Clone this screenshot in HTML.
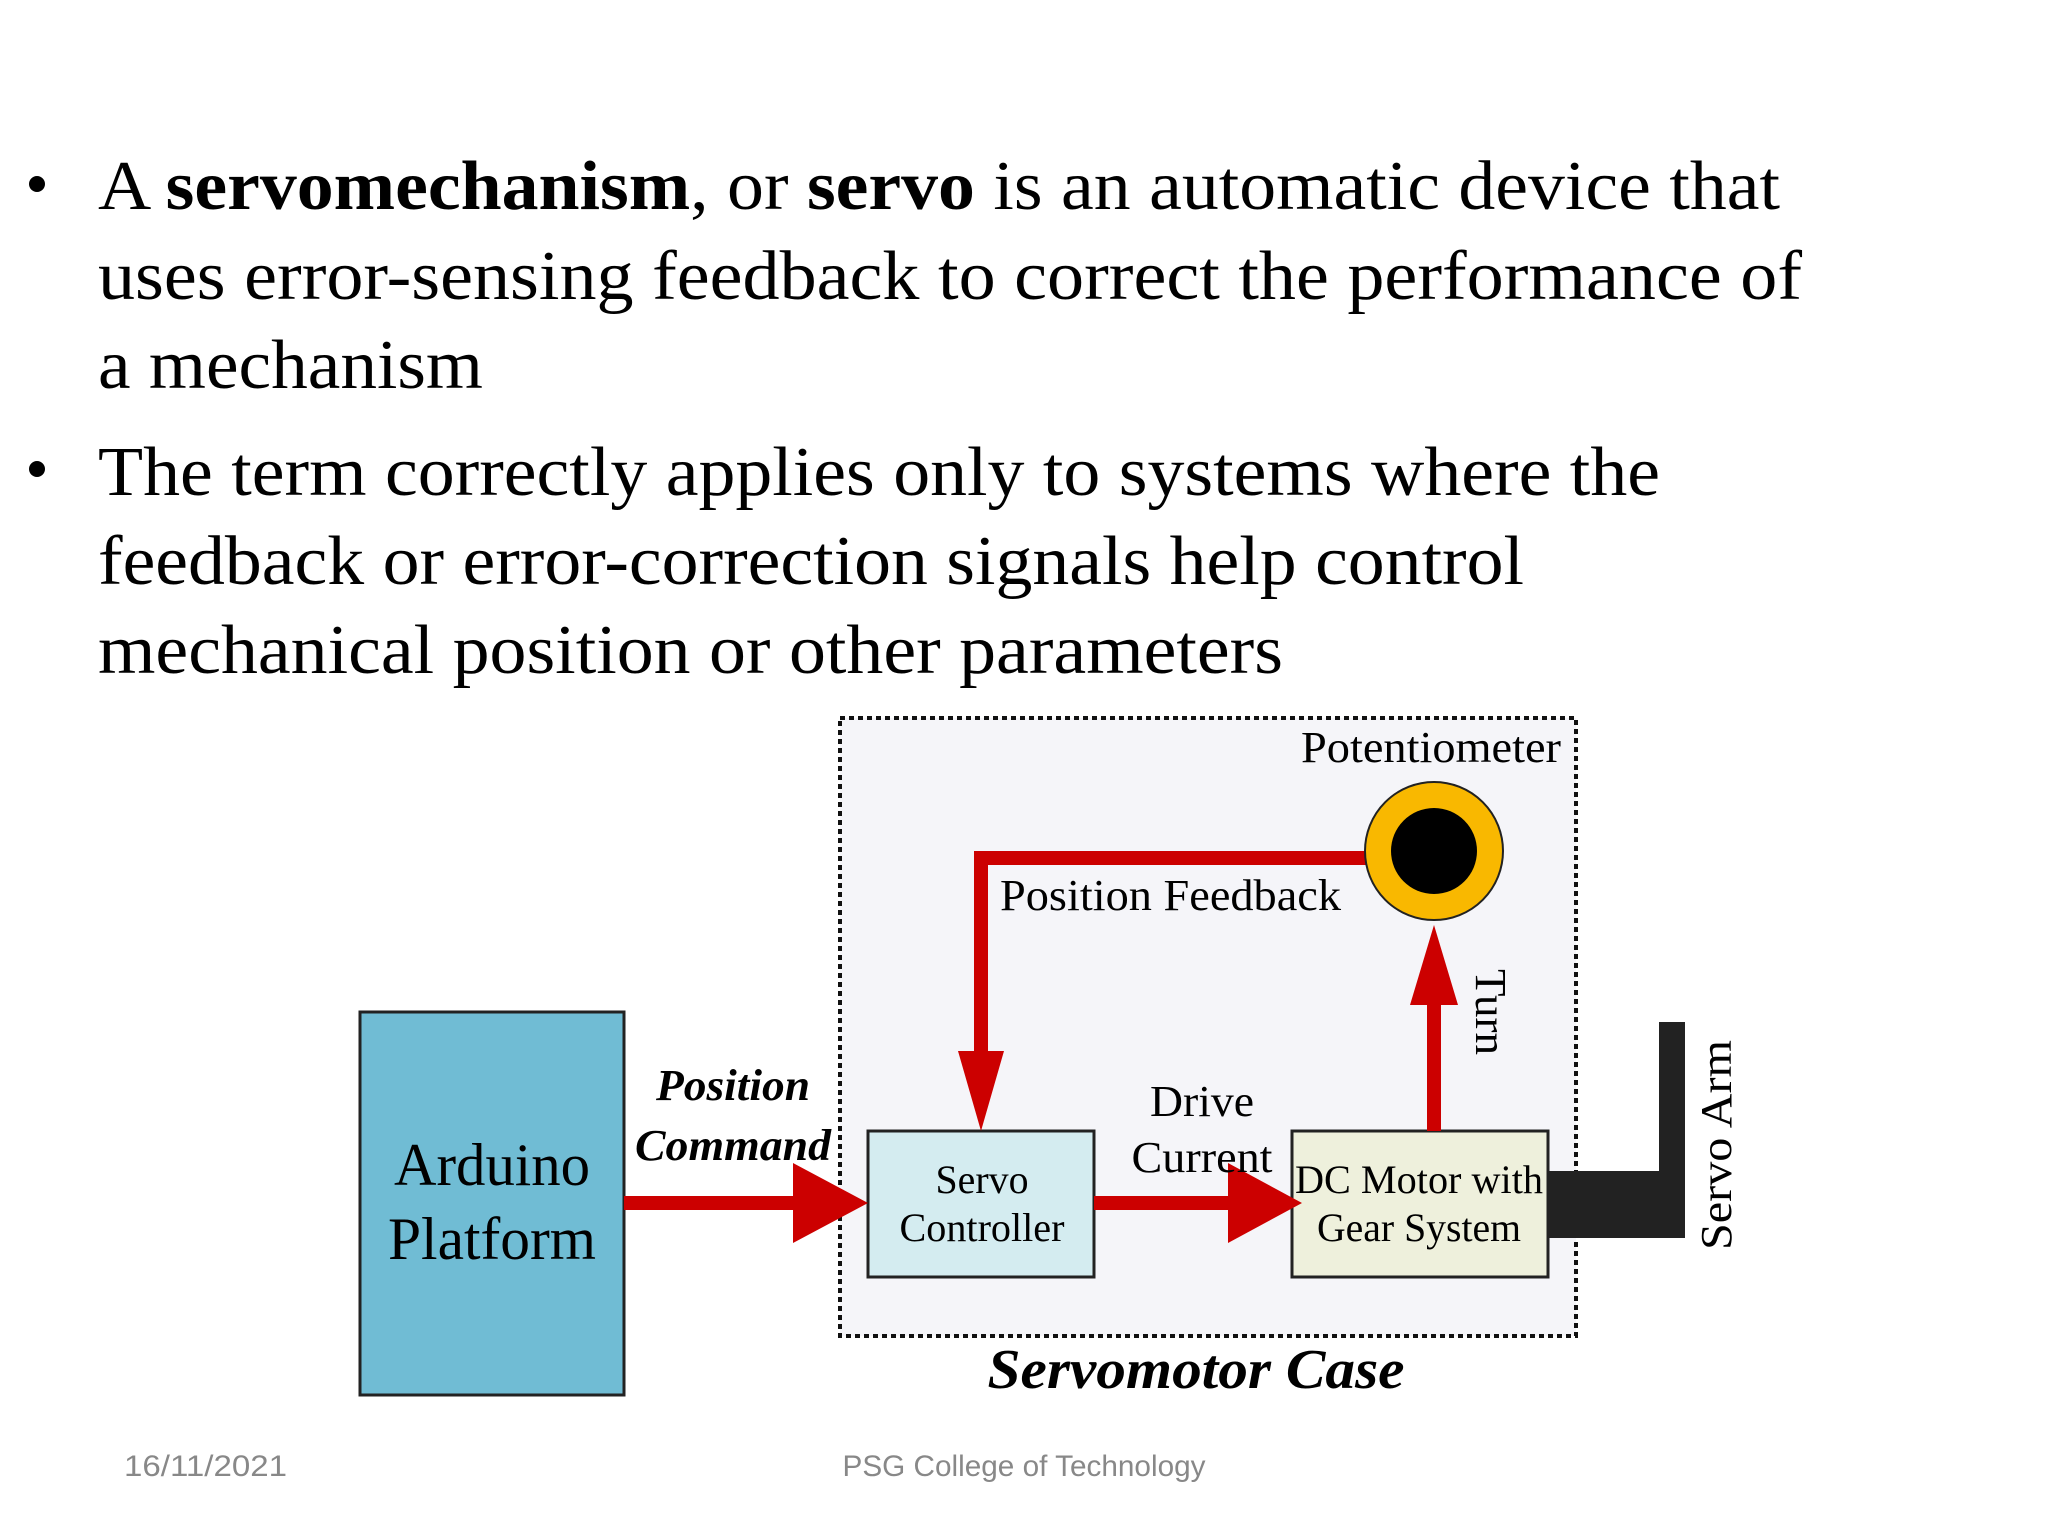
<!DOCTYPE html>
<html><head><meta charset="utf-8"><style>
html,body{margin:0;padding:0;background:#fff;}
svg{display:block;}
</style></head><body>
<svg width="2048" height="1536" viewBox="0 0 2048 1536" xmlns="http://www.w3.org/2000/svg">
<rect width="2048" height="1536" fill="#fff"/>
<g font-family="Liberation Serif, serif" font-size="70" fill="#000">
<circle cx="37" cy="184" r="8"/>
<circle cx="37" cy="469" r="8"/>
<text x="98" y="209" textLength="1682" lengthAdjust="spacingAndGlyphs">A <tspan font-weight="bold">servomechanism</tspan>, or <tspan font-weight="bold">servo</tspan> is an automatic device that</text>
<text x="98" y="299" textLength="1704" lengthAdjust="spacingAndGlyphs">uses error-sensing feedback to correct the performance of</text>
<text x="98" y="388" textLength="385" lengthAdjust="spacingAndGlyphs">a mechanism</text>
<text x="98" y="495" textLength="1562" lengthAdjust="spacingAndGlyphs">The term correctly applies only to systems where the</text>
<text x="98" y="584" textLength="1426" lengthAdjust="spacingAndGlyphs">feedback or error-correction signals help control</text>
<text x="98" y="673" textLength="1185" lengthAdjust="spacingAndGlyphs">mechanical position or other parameters</text>
</g>
<rect x="840" y="718" width="736" height="618" fill="#f5f5f9" stroke="#111" stroke-width="4" stroke-dasharray="5,4"/>
<rect x="360" y="1012" width="264" height="383" fill="#70bcd4" stroke="#222" stroke-width="3"/>
<g font-family="Liberation Serif, serif" font-size="60" text-anchor="middle" fill="#000">
<text x="492" y="1185" textLength="196" lengthAdjust="spacingAndGlyphs">Arduino</text>
<text x="492" y="1259" textLength="208" lengthAdjust="spacingAndGlyphs">Platform</text>
</g>
<rect x="868" y="1131" width="226" height="146" fill="#d4ecf0" stroke="#222" stroke-width="3"/>
<rect x="1292" y="1131" width="256" height="146" fill="#eef0dc" stroke="#222" stroke-width="3"/>
<g font-family="Liberation Serif, serif" font-size="40" text-anchor="middle" fill="#000">
<text x="982" y="1193" textLength="93" lengthAdjust="spacingAndGlyphs">Servo</text>
<text x="982" y="1241" textLength="165" lengthAdjust="spacingAndGlyphs">Controller</text>
<text x="1419" y="1193" textLength="248" lengthAdjust="spacingAndGlyphs">DC Motor with</text>
<text x="1419" y="1241" textLength="204" lengthAdjust="spacingAndGlyphs">Gear System</text>
</g>
<rect x="1548" y="1171" width="117" height="67" fill="#222"/>
<rect x="1659" y="1022" width="26" height="216" fill="#222"/>
<g fill="#cc0000">
<rect x="624" y="1196" width="172" height="14"/>
<polygon points="793,1163 868,1203 793,1243"/>
<rect x="1094" y="1196" width="138" height="14"/>
<polygon points="1228,1163 1302,1203 1228,1243"/>
<rect x="974" y="851" width="400" height="14"/>
<rect x="974" y="851" width="14" height="210"/>
<polygon points="958,1051 1004,1051 981,1131"/>
<rect x="1427" y="1000" width="14" height="131"/>
<polygon points="1410,1005 1458,1005 1434,925"/>
</g>
<circle cx="1434" cy="851" r="69" fill="#f9b800" stroke="#222" stroke-width="2"/>
<circle cx="1434" cy="851" r="43" fill="#000"/>
<g font-family="Liberation Serif, serif" fill="#000">
<text x="1301" y="762" font-size="44" textLength="260" lengthAdjust="spacingAndGlyphs">Potentiometer</text>
<text x="1000" y="910" font-size="44" textLength="341" lengthAdjust="spacingAndGlyphs">Position Feedback</text>
<text x="1202" y="1116" font-size="44" text-anchor="middle" textLength="104" lengthAdjust="spacingAndGlyphs">Drive</text>
<text x="1202" y="1172" font-size="44" text-anchor="middle" textLength="141" lengthAdjust="spacingAndGlyphs">Current</text>
<text x="733" y="1100" font-size="44" font-weight="bold" font-style="italic" text-anchor="middle" textLength="154" lengthAdjust="spacingAndGlyphs">Position</text>
<text x="733" y="1160" font-size="44" font-weight="bold" font-style="italic" text-anchor="middle" textLength="196" lengthAdjust="spacingAndGlyphs">Command</text>
<text x="1196" y="1388" font-size="56" font-weight="bold" font-style="italic" text-anchor="middle" textLength="417" lengthAdjust="spacingAndGlyphs">Servomotor Case</text>
<text transform="translate(1476,1012) rotate(90)" font-size="44" text-anchor="middle" textLength="86" lengthAdjust="spacingAndGlyphs">Turn</text>
<text transform="translate(1731,1145) rotate(-90)" font-size="44" text-anchor="middle" textLength="210" lengthAdjust="spacingAndGlyphs">Servo Arm</text>
</g>
<g font-family="Liberation Sans, sans-serif" font-size="30" fill="#888">
<text x="124" y="1476" textLength="163" lengthAdjust="spacingAndGlyphs">16/11/2021</text>
<text x="1024" y="1476" text-anchor="middle" textLength="363" lengthAdjust="spacingAndGlyphs">PSG College of Technology</text>
</g>
</svg>
</body></html>
